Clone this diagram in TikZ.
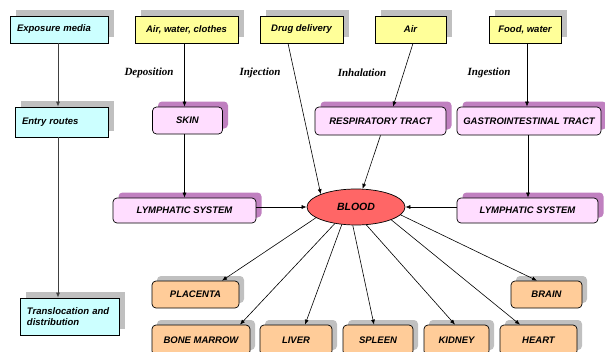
\documentclass[tikz,border=0pt]{standalone}
\usepackage{fontspec}
\setmainfont{Liberation Sans}
\newfontfamily\labfont{Liberation Serif}
\usetikzlibrary{arrows.meta,shadows,shapes.geometric,calc}
\definecolor{cyanf}{HTML}{CCFFFF}
\definecolor{yellowf}{HTML}{FFFF99}
\definecolor{pinkf}{HTML}{FFDDFF}
\definecolor{purplesh}{HTML}{C080C0}
\definecolor{orangef}{HTML}{FFCC99}
\definecolor{greysh}{HTML}{C0C0C0}
\definecolor{bloodf}{HTML}{FF6666}
\begin{document}
\begin{tikzpicture}[x=1pt,y=-1pt,
  base/.style={draw=black, line width=0.7pt, inner sep=0pt,
    font=\fontsize{9.5}{11}\selectfont\bfseries\itshape},
  greyshadow/.style={drop shadow={shadow xshift=6pt, shadow yshift=6pt, fill=greysh, opacity=1}},
  purpleshadow/.style={drop shadow={shadow xshift=5.5pt, shadow yshift=5.5pt, fill=purplesh, opacity=1}},
  cyanbox/.style={base, fill=cyanf, align=left, inner xsep=7pt, greyshadow},
  yellowbox/.style={base, fill=yellowf, minimum height=27pt, greyshadow},
  pinkbox/.style={base, fill=pinkf, rounded corners=4pt, purpleshadow},
  orangebox/.style={base, fill=orangef, rounded corners=4pt,
    drop shadow={shadow xshift=5pt, shadow yshift=5pt, fill=greysh, opacity=1}},
  lab/.style={font=\labfont\fontsize{11}{13}\selectfont\bfseries\itshape, inner sep=0pt},
  arr/.style={line width=0.6pt, -{Latex[length=5pt,width=4pt]}},
  arrg/.style={line width=0.8pt, draw=black!75, -{Latex[length=5pt,width=4pt]}}
]
\useasboundingbox (0,0) rectangle (605,351);
\clip (0,0) rectangle (605,351);

% left column
\node[cyanbox, text width=84pt, minimum height=27pt] (exp) at (59,29.5) {Exposure media};
\node[cyanbox, text width=79pt, minimum height=30pt] (entry) at (61.5,122) {Entry routes};
\node[cyanbox, text width=85pt, minimum height=37pt] (trans) at (69.5,316.5) {Translocation and\\distribution};

% sources
\node[yellowbox, minimum width=103pt] (awc) at (186.5,29.5) {Air, water, clothes};
\node[yellowbox, minimum width=83pt] (drug) at (301.5,29.5) {Drug delivery};
\node[yellowbox, minimum width=71pt] (air) at (410.5,29.5) {Air};
\node[yellowbox, minimum width=72pt] (food) at (525,29.5) {Food, water};

% route labels
\node[lab] (ldep) at (149,73) {Deposition};
\node[lab] (linj) at (260,73) {Injection};
\node[lab] (linh) at (362,73) {Inhalation};
\node[lab] (ling) at (489,73) {Ingestion};

% entry organs
\node[pinkbox, minimum width=70pt, minimum height=27pt] (skin) at (187.5,120.5) {SKIN};
\node[pinkbox, minimum width=131pt, minimum height=28pt] (resp) at (380.5,121) {RESPIRATORY TRACT};
\node[pinkbox, minimum width=144pt, minimum height=28pt] (gi) at (529,121) {GASTROINTESTINAL TRACT};
\node[pinkbox, minimum width=143pt, minimum height=25pt] (lymL) at (184.5,210.5) {LYMPHATIC SYSTEM};
\node[pinkbox, minimum width=141pt, minimum height=25pt] (lymR) at (527.5,210.5) {LYMPHATIC SYSTEM};

% blood
\node[base, ellipse, fill=bloodf, minimum width=98pt, minimum height=36pt,
  font=\fontsize{10.5}{12}\selectfont\bfseries\itshape] (blood) at (356,207) {BLOOD};

% target organs
\node[orangebox, minimum width=87pt, minimum height=27pt] (placenta) at (195.5,294.5) {PLACENTA};
\node[orangebox, minimum width=71pt, minimum height=27pt] (brain) at (546.5,294.5) {BRAIN};
\node[orangebox, minimum width=98pt, minimum height=30pt] (bone) at (201,340) {BONE MARROW};
\node[orangebox, minimum width=72pt, minimum height=30pt] (liver) at (296,340) {LIVER};
\node[orangebox, minimum width=70pt, minimum height=30pt] (spleen) at (378,340) {SPLEEN};
\node[orangebox, minimum width=65pt, minimum height=30pt] (kidney) at (456.5,340) {KIDNEY};
\node[orangebox, minimum width=77pt, minimum height=30pt] (heart) at (538.5,340) {HEART};

% left column arrows
\draw[arrg] ([xshift=-1pt]exp.south) -- ([xshift=-1pt]exp.south |- entry.north);
\draw[arrg] ([xshift=-1pt]exp.south |- entry.south) -- ([xshift=-1pt]exp.south |- trans.north);

% source arrows
\draw[arr] ([xshift=-2pt]awc.south) -- ([xshift=-2pt]awc.south |- skin.north);
\draw[arr] ([xshift=-3pt]skin.south) -- ([xshift=-3pt]skin.south |- lymL.north);
\draw[arr] ([xshift=-13.5pt]drug.south) -- (blood.160);
\draw[arr] ([xshift=2.5pt]air.south) -- ([xshift=12.5pt]resp.north);
\draw[arr] (resp.south) -- (blood.70);
\draw[arr] ([xshift=2pt]food.south) -- ([xshift=2pt]food.south |- gi.north);
\draw[arr] ([xshift=-1pt]gi.south) -- ([xshift=-1pt]gi.south |- lymR.north);
\draw[arr] (lymL.east |- blood.west) -- (blood.west);
\draw[arr] (lymR.west |- blood.east) -- (blood.east);

% distribution arrows
\draw[arr] (blood.195) -- ([xshift=26.5pt]placenta.north);
\draw[arr] (blood.218) -- ([xshift=39pt]bone.north);
\draw[arr] (blood.231) -- ([xshift=9pt]liver.north);
\draw[arr] (blood.260) -- ([xshift=-4pt]spleen.north);
\draw[arr] (blood.300) -- ([xshift=-1.5pt]kidney.north);
\draw[arr] (blood.340) -- ([xshift=-18.5pt]heart.north);
\draw[arr] (blood.350) -- ([xshift=-9.5pt]brain.north);
\end{tikzpicture}
\end{document}
